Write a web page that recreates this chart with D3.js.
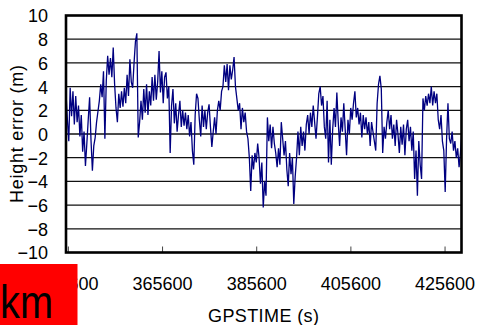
<!DOCTYPE html>
<html>
<head>
<meta charset="utf-8">
<script src="https://cdn.jsdelivr.net/npm/d3@7"></script>
<style>
  body { margin: 0; background: #fff; }
  text { font-family: "Liberation Sans", Arial, sans-serif; fill: #000; }
</style>
</head>
<body>
<svg id="chart" width="487" height="325"></svg>
<script>
// height error samples (m)
let heightErr = [
  3.5,1.2,-0.6,3.9,1.5,3.6,0.8,3.2,1.0,2.4,-0.2,1.6,-1.5,0.2,-2.7,-0.8,1.2,3.1,-0.5,-3.1,
  -1.0,-0.3,1.0,1.9,2.8,4.2,3.1,5.3,-0.4,4.5,6.6,5.0,6.4,4.8,7.3,4.2,2.2,1.0,3.4,2.2,
  3.6,2.3,3.9,2.6,5.0,3.2,6.3,
  4.4,3.9,6.0,7.8,8.5,-0.3,1.0,2.8,1.2,3.8,1.8,4.2,1.6,3.6,2.4,4.8,2.8,5.0,2.9,4.4,
  7.0,3.5,5.3,2.6,4.8,5.2,3.0,4.0,-1.6,2.4,3.8,0.9,2.6,0.2,1.6,2.8,0.6,2.0,0.7,1.8,
  0.4,1.6,-0.2,1.0,-1.4,-2.6,1.6,3.4,
  3.0,1.2,-0.2,2.4,0.6,2.0,0.4,1.8,2.5,0.6,-1.1,0.2,1.4,0.0,2.0,2.8,2.0,3.6,4.0,5.8,
  4.4,5.9,3.7,5.8,4.6,5.4,6.5,4.0,3.0,2.0,2.6,0.4,2.2,1.0,1.8,0.2,-0.4,-2.0,-4.8,-1.8,
  -3.0,-1.6,-2.4,-0.8,-2.0,-4.2,-2.4,-6.2,
  -4.0,-5.2,1.4,-0.6,0.8,-1.2,0.6,-0.8,-1.6,-2.8,-1.2,-2.6,1.0,-0.4,-1.8,-0.6,-3.0,-4.4,-1.6,-3.4,
  -2.0,-5.9,-3.6,-2.0,0.2,-1.8,0.6,-1.0,0.2,-1.4,0.8,1.6,0.0,1.8,0.6,2.4,1.0,-0.4,1.4,3.4,
  4.0,2.4,3.2,0.6,-0.4,2.8,-2.4,
  1.2,-2.6,0.4,2.2,0.6,3.5,1.0,-1.0,1.4,0.2,2.6,0.4,-1.8,1.2,0.0,2.2,1.2,2.6,3.6,1.4,
  2.2,0.8,1.8,-0.3,1.6,0.4,1.4,0.0,1.0,-1.0,1.0,0.2,-0.6,-1.4,2.6,4.2,4.9,3.8,-1.6,0.6,
  -0.4,1.0,2.0,0.4,1.6,-0.4,0.8,-1.0,
  1.2,0.0,-1.6,0.6,-0.9,0.8,-1.8,0.4,1.2,-0.6,0.6,-1.4,0.2,-3.8,-1.4,-5.2,-0.6,-2.6,-3.8,3.0,
  2.0,3.2,2.4,3.4,2.6,4.0,2.4,3.6,2.6,3.4,1.2,0.4,1.6,-0.6,-1.4,-4.9,-0.4,2.6,-0.4,-0.8,
  0.2,-1.4,-0.6,-2.0,-1.2,-2.8,-1.6,0.2
];
let startTime = 345200;   // GPSTIME of first sample (s)
let sampleStep = 295;     // seconds between samples

let xTicks = [345600, 365600, 385600, 405600, 425600];
let yTicks = [-10, -8, -6, -4, -2, 0, 2, 4, 6, 8, 10];
let xTitle = "GPSTIME (s)";
let yTitle = "Height error (m)";
let badge = "km";

let plot = {left: 66, right: 461.5, top: 15.5, bottom: 252.5};

let svg = d3.select("#chart");

let x = d3.scaleLinear()
            .domain([345200, 429200])
            .range([plot.left, plot.right]);
let y = d3.scaleLinear()
            .domain([-10, 10])
            .range([plot.bottom, plot.top]);

// gridlines
svg.append("g")
    .selectAll("line")
    .data(yTicks.filter(d => d > -10 && d < 10))
    .enter()
    .append("line")
    .attr("x1", plot.left)
    .attr("x2", plot.right)
    .attr("y1", d => y(d))
    .attr("y2", d => y(d))
    .attr("stroke", "#111")
    .attr("stroke-width", 1.3);

// data line
svg.append("clipPath").attr("id", "clip")
    .append("rect")
    .attr("x", plot.left).attr("y", plot.top)
    .attr("width", plot.right - plot.left)
    .attr("height", plot.bottom - plot.top);

let line = d3.line()
              .x((d, i) => x(startTime + i * sampleStep))
              .y(d => y(d));

svg.append("path")
    .datum(heightErr)
    .attr("clip-path", "url(#clip)")
    .attr("fill", "none")
    .attr("stroke", "#000080")
    .attr("stroke-width", 1.3)
    .attr("stroke-linejoin", "miter")
    .attr("d", line);

// x axis (inward ticks)
let xAxis = svg.append("g")
    .attr("transform", "translate(0," + plot.bottom + ")")
    .call(d3.axisBottom(x)
            .tickValues(xTicks)
            .tickSize(-6)
            .tickFormat(d3.format("d")));
xAxis.select(".domain").remove();
xAxis.selectAll("line").attr("stroke", "#444");
xAxis.selectAll("text")
    .attr("font-size", 18)
    .attr("font-family", "Liberation Sans, Arial, sans-serif")
    .attr("dy", 0)
    .attr("y", 37.5);

// y axis labels
let yAxis = svg.append("g")
    .attr("transform", "translate(" + plot.left + ",0)")
    .call(d3.axisLeft(y)
            .tickValues(yTicks)
            .tickSize(0)
            .tickPadding(18));
yAxis.select(".domain").remove();
yAxis.selectAll("text")
    .attr("font-size", 18)
    .attr("font-family", "Liberation Sans, Arial, sans-serif")
    .attr("dy", "0.36em");

// frame
svg.append("rect")
    .attr("x", plot.left)
    .attr("y", plot.top)
    .attr("width", plot.right - plot.left)
    .attr("height", plot.bottom - plot.top)
    .attr("fill", "none")
    .attr("stroke", "#000")
    .attr("stroke-width", 2.6);

// titles
svg.append("text")
    .attr("x", 208)
    .attr("y", 322)
    .attr("font-size", 18)
    .attr("textLength", 111)
    .attr("lengthAdjust", "spacing")
    .text(xTitle);

svg.append("text")
    .attr("transform", "translate(23,203) rotate(-90)")
    .attr("font-size", 18)
    .attr("textLength", 138)
    .attr("lengthAdjust", "spacing")
    .text(yTitle);

// red badge over the bottom-left corner
svg.append("rect")
    .attr("x", 0).attr("y", 264)
    .attr("width", 77.5).attr("height", 61)
    .attr("fill", "#ff0000");
svg.append("text")
    .attr("x", 0)
    .attr("y", 318)
    .attr("font-size", 47)
    .attr("textLength", 53)
    .attr("lengthAdjust", "spacingAndGlyphs")
    .text(badge);
</script>
</body>
</html>
